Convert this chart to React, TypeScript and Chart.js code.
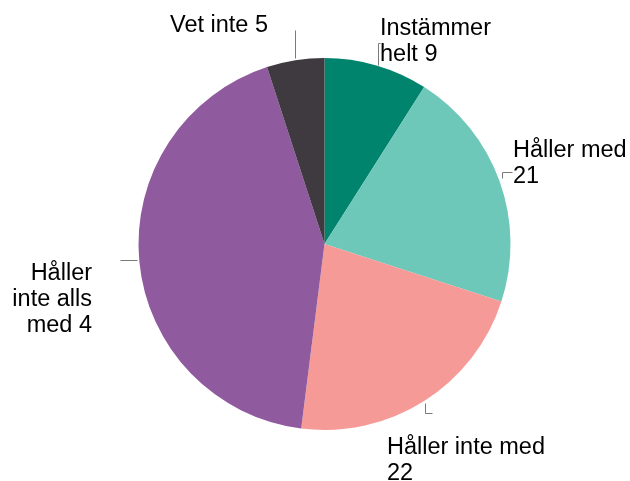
import React, { useEffect, useRef } from "react";
import { Chart, registerables } from "chart.js";

Chart.register(...registerables);

const categories = ["Instämmer helt", "Håller med", "Håller inte med", "Håller inte alls med", "Vet inte"];
const values = [9, 21, 22, 43, 5];
const labelLines = [
  ["Instämmer", "helt 9"],
  ["Håller med", "21"],
  ["Håller inte med", "22"],
  ["Håller", "inte alls", "med 4"],
  ["Vet inte 5"],
];
const colors = ["#00846E", "#6DC8B9", "#F59A97", "#8F5A9E", "#3E3A3F"];

// leader geometry relative to the arc-edge anchor (styling only)
type Layout = {
  path: [number, number][];
  text: [number, number];
  align: CanvasTextAlign;
};
const layouts: Layout[] = [
  { path: [[1.5, 0], [1.5, -22], [3.5, -22]], text: [3.6, -30.4], align: "left" },
  { path: [[2.5, -3], [2.5, -9], [12.5, -9]], text: [13.5, -24], align: "left" },
  { path: [[0.8, 2], [0.8, 12], [7.8, 12]], text: [-37.2, 53], align: "left" },
  { path: [[-2, -1.5], [-19, -1.5]], text: [-47.3, 18.5], align: "right" },
  { path: [[0, -2], [0, -30]], text: [-125.4, -28.3], align: "left" },
];

const labelPlugin = {
  id: "pieLabels",
  afterDatasetsDraw(chart: any) {
    const ctx = chart.ctx as CanvasRenderingContext2D;
    const meta = chart.getDatasetMeta(0);
    ctx.save();
    meta.data.forEach((arc: any, i: number) => {
      const p = arc.getProps(["x", "y", "startAngle", "endAngle", "outerRadius"], true);
      const mid = (p.startAngle + p.endAngle) / 2;
      const ax = p.x + Math.cos(mid) * p.outerRadius;
      const ay = p.y + Math.sin(mid) * p.outerRadius;
      const l = layouts[i];
      ctx.strokeStyle = "#7a7a7a";
      ctx.lineWidth = 1;
      ctx.beginPath();
      l.path.forEach(([dx, dy], k) => {
        const x = Math.round(ax + dx) + 0.5;
        const y = Math.round(ay + dy) + 0.5;
        if (k === 0) ctx.moveTo(x, y);
        else ctx.lineTo(x, y);
      });
      ctx.stroke();
      ctx.fillStyle = "#000";
      ctx.font = "23.5px 'Liberation Sans', Arial, sans-serif";
      ctx.textAlign = l.align;
      ctx.textBaseline = "alphabetic";
      labelLines[i].forEach((line, k) => {
        ctx.fillText(line, ax + l.text[0], ay + l.text[1] + k * 26);
      });
    });
    ctx.restore();
  },
};

export default function App() {
  const ref = useRef<HTMLCanvasElement>(null);
  useEffect(() => {
    if (!ref.current) return;
    const chart = new Chart(ref.current, {
      type: "pie",
      data: {
        labels: categories,
        datasets: [
          {
            data: values,
            backgroundColor: colors,
            borderWidth: 0,
          },
        ],
      },
      options: {
        responsive: false,
        animation: false,
        layout: { padding: { top: 58, bottom: 51, left: 138, right: 119 } },
        plugins: {
          legend: { display: false },
          tooltip: { enabled: false },
        },
      },
      plugins: [labelPlugin],
    });
    return () => chart.destroy();
  }, []);
  return (
    <div style={{ position: "absolute", left: 0, top: 0, width: 630, height: 481, background: "#fff" }}>
      <canvas ref={ref} width={630} height={481} />
    </div>
  );
}
